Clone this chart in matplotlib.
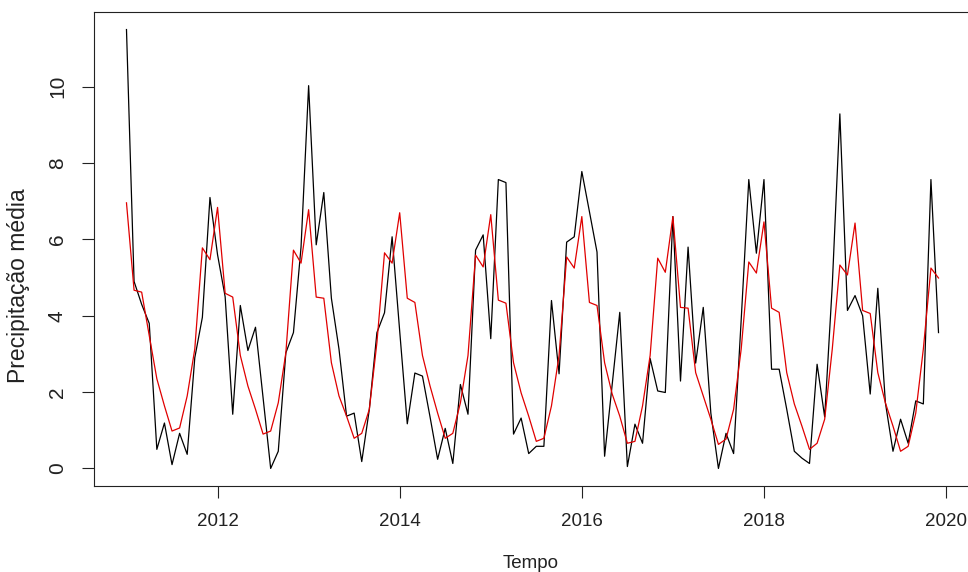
import numpy as np
import matplotlib
matplotlib.use('Agg')
import matplotlib.pyplot as plt

plt.rcParams['font.family'] = ['Liberation Sans', 'DejaVu Sans']

# observed monthly mean precipitation, Jan 2011 .. Dec 2019
observed = [
    11.5, 4.9, 4.3, 3.8, 0.5, 1.19, 0.1, 0.92, 0.37, 2.9, 3.96, 7.1,      # 2011
    5.6, 4.5, 1.42, 4.27, 3.09, 3.7, 1.85, 0.0, 0.45, 3.03, 3.56, 5.8,    # 2012
    10.03, 5.86, 7.23, 4.46, 3.13, 1.37, 1.45, 0.18, 1.55, 3.56, 4.08, 6.07,  # 2013
    3.6, 1.17, 2.5, 2.42, 1.35, 0.24, 1.05, 0.13, 2.2, 1.42, 5.72, 6.12,  # 2014
    3.4, 7.57, 7.49, 0.9, 1.32, 0.39, 0.58, 0.58, 4.4, 2.48, 5.93, 6.07,  # 2015
    7.78, 6.73, 5.67, 0.32, 2.2, 4.09, 0.05, 1.16, 0.66, 2.88, 2.03, 1.99,  # 2016
    6.6, 2.29, 5.8, 2.76, 4.22, 1.45, 0.0, 0.92, 0.39, 3.9, 7.57, 5.64,   # 2017
    7.57, 2.6, 2.6, 1.55, 0.45, 0.27, 0.13, 2.73, 1.35, 4.8, 9.29, 4.14,  # 2018
    4.53, 4.0, 1.95, 4.72, 1.72, 0.45, 1.29, 0.66, 1.77, 1.69, 7.57, 3.56,  # 2019
]

# fitted / seasonal series
fitted = [
    6.96, 4.67, 4.62, 3.48, 2.35, 1.64, 0.98, 1.06, 1.9, 3.13, 5.78, 5.47,
    6.84, 4.59, 4.49, 2.96, 2.16, 1.55, 0.9, 0.98, 1.72, 3.03, 5.72, 5.38,
    6.78, 4.49, 4.46, 2.77, 1.9, 1.37, 0.79, 0.92, 1.55, 3.3, 5.65, 5.38,
    6.7, 4.46, 4.35, 2.96, 2.16, 1.45, 0.79, 0.92, 1.72, 2.96, 5.59, 5.28,
    6.65, 4.41, 4.33, 2.77, 1.98, 1.37, 0.71, 0.79, 1.64, 2.96, 5.54, 5.25,
    6.6, 4.35, 4.27, 2.77, 1.95, 1.37, 0.66, 0.71, 1.64, 2.96, 5.51, 5.14,
    6.6, 4.22, 4.2, 2.51, 1.9, 1.29, 0.63, 0.77, 1.55, 3.13, 5.41, 5.12,
    6.46, 4.2, 4.09, 2.51, 1.69, 1.11, 0.5, 0.66, 1.29, 3.13, 5.33, 5.07,
    6.43, 4.14, 4.06, 2.51, 1.72, 1.11, 0.45, 0.58, 1.45, 3.13, 5.25, 4.99,
]

start_year = 2011
x_ticks = [2012, 2014, 2016, 2018, 2020]
y_ticks = [0, 2, 4, 6, 8, 10]

t = start_year + np.arange(len(observed)) / 12.0

W, H = 968, 572
fig = plt.figure(figsize=(W / 100, H / 100), dpi=100)

# axes box in pixels: left 94, right 971 (off the image), top 12, bottom 486
ax = fig.add_axes([94 / W, 1 - 486 / H, (971 - 94) / W, (486 - 12) / H])

ax.plot(t, observed, color='black', lw=0.9)
ax.plot(t, fitted, color='#e00000', lw=0.9)

# R style 4% padding
xr = t[-1] - t[0]
ax.set_xlim(t[0] - 0.04 * xr, t[-1] + 0.04 * xr)
ymin, ymax = min(observed), max(observed)
yr = ymax - ymin
ax.set_ylim(ymin - 0.04 * yr, ymax + 0.04 * yr)

ax.set_xticks(x_ticks)
ax.set_xticklabels([str(v) for v in x_ticks])
ax.set_yticks(y_ticks)
ax.set_yticklabels([str(v) for v in y_ticks], rotation=90, va='center')

ax.tick_params(axis='both', direction='out', length=8.5, width=0.8,
               colors='#222222')
ax.tick_params(axis='x', pad=11, labelsize=13.5)
ax.tick_params(axis='y', pad=11, labelsize=15)

for s in ax.spines.values():
    s.set_linewidth(0.8)
    s.set_color('#222222')

fig.text(531 / W, 1 - 563 / H, 'Tempo', ha='center', va='center',
         fontsize=13.5, color='#222222')
fig.text(19 / W, 1 - 286 / H, 'Precipitação média', ha='center', va='center',
         rotation=90, fontsize=16.5, color='#222222')

fig.savefig('out.png', dpi=100)
